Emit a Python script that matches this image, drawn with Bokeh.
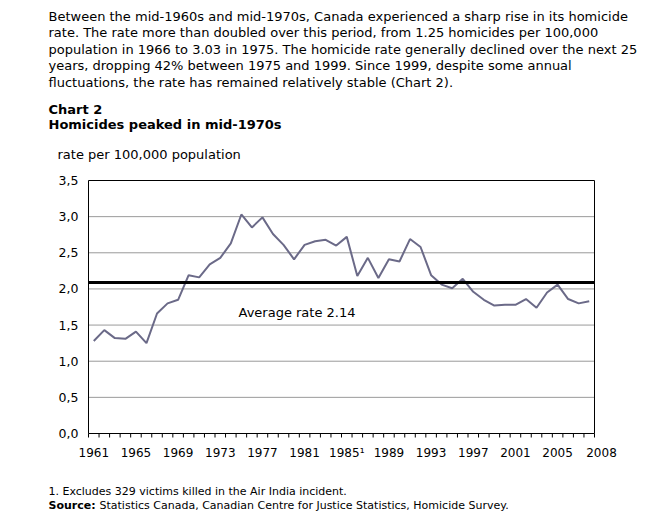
from bokeh.plotting import figure
from bokeh.models import Range1d
from bokeh.core.properties import value
from bokeh.embed import file_html
from bokeh.resources import INLINE

# ---- data ----
years = list(range(1961, 2009))
rates = [1.28, 1.43, 1.32, 1.31, 1.41, 1.25, 1.66, 1.80, 1.85, 2.19,
         2.16, 2.34, 2.43, 2.63, 3.03, 2.85, 2.99, 2.76, 2.61, 2.41,
         2.61, 2.66, 2.68, 2.60, 2.72, 2.18, 2.43, 2.15, 2.41, 2.38,
         2.69, 2.58, 2.19, 2.06, 2.01, 2.14, 1.96, 1.85, 1.77, 1.78,
         1.78, 1.86, 1.74, 1.95, 2.06, 1.86, 1.80, 1.83]
avg_line_value = 2.09
avg_label = "Average rate 2.14"
x_tick_years = [1961, 1965, 1969, 1973, 1977, 1981, 1985, 1989, 1993, 1997, 2001, 2005]
x_tick_labels = ["1961", "1965", "1969", "1973", "1977", "1981", "1985\u00b9",
                 "1989", "1993", "1997", "2001", "2005"]
last_year_label = "2008"
y_ticks = [0.0, 0.5, 1.0, 1.5, 2.0, 2.5, 3.0, 3.5]
y_tick_labels = ["0,0", "0,5", "1,0", "1,5", "2,0", "2,5", "3,0", "3,5"]

paragraph = [
    "Between the mid-1960s and mid-1970s, Canada experienced a sharp rise in its homicide",
    "rate. The rate more than doubled over this period, from 1.25 homicides per 100,000",
    "population in 1966 to 3.03 in 1975. The homicide rate generally declined over the next 25",
    "years, dropping 42% between 1975 and 1999. Since 1999, despite some annual",
    "fluctuations, the rate has remained relatively stable (Chart 2).",
]
chart_no = "Chart 2"
chart_title = "Homicides peaked in mid-1970s"
y_title = "rate per 100,000 population"
footnote = "1. Excludes 329 victims killed in the Air India incident."
source_bold = "Source:"
source_text = "Statistics Canada, Canadian Centre for Justice Statistics, Homicide Survey."

FONT = "DejaVu Sans"

# ---- layout (page pixels) ----
W, H = 645, 514
FL, FR, FT, FB = 88, 594, 180, 433      # chart box edges
X0, X1 = years[0] - 0.5, years[-1] + 0.5
Y0, Y1 = 0.0, 3.5
PXU = (FR - FL) / (X1 - X0)
PYU = (FB - FT) / (Y1 - Y0)


def dx(px):
    return X0 + (px - FL) / PXU


def dy(py):
    return Y0 + (FB - py) / PYU


p = figure(width=W, height=H, output_backend="svg", toolbar_location=None,
           x_range=Range1d(dx(0), dx(W)), y_range=Range1d(dy(H), dy(0)),
           x_axis_location=None, y_axis_location=None, min_border=0)
p.grid.visible = False
p.outline_line_color = None
p.background_fill_color = "white"
p.border_fill_color = "white"

# grid lines
grid_vals = [t for t in y_ticks if Y0 < t < Y1]
p.segment(x0=[X0] * len(grid_vals), x1=[X1] * len(grid_vals), y0=grid_vals, y1=grid_vals,
          line_color="#9a9a9a", line_width=1)

# data line
p.line(years, rates, line_color="#6b6a88", line_width=2)

# average line
p.segment(x0=[X0], x1=[X1], y0=[avg_line_value], y1=[avg_line_value],
          line_color="black", line_width=3)

# chart box
p.quad(left=[X0], right=[X1], bottom=[Y0], top=[Y1], fill_color=None,
       line_color="black", line_width=1)

# x ticks at year boundaries
bounds = [y - 0.5 for y in years] + [years[-1] + 0.5]
p.segment(x0=bounds, x1=bounds, y0=[Y0] * len(bounds), y1=[dy(FB + 4)] * len(bounds),
          line_color="black", line_width=1)


def txt(xs, ys, texts, size, bold=False, align="left"):
    p.text(x=xs, y=ys, text=texts, text_font=value(FONT), text_font_size=value(size),
           text_font_style="bold" if bold else "normal", text_color="black",
           text_baseline="middle", text_align=align)


# tick labels
txt(x_tick_years, [dy(452)] * len(x_tick_years), x_tick_labels, "12px", align="center")
txt([dx(601)], [dy(452)], [last_year_label], "12px", align="center")
txt([dx(78)] * len(y_ticks), y_ticks, y_tick_labels, "12.5px", align="right")

# average label
txt([dx(238)], [dy(312)], [avg_label], "13px")

# header texts
txt([dx(48)] * len(paragraph), [dy(16 + i * 16.4) for i in range(len(paragraph))], paragraph, "13px")
txt([dx(48)], [dy(109)], [chart_no], "13px", bold=True)
txt([dx(48)], [dy(124)], [chart_title], "13px", bold=True)
txt([dx(57)], [dy(154)], [y_title], "13px")

# footer texts
txt([dx(48)], [dy(491)], [footnote], "11px")
txt([dx(48)], [dy(505)], [source_bold], "11px", bold=True)
txt([dx(99)], [dy(505)], [source_text], "11px")

open("out.html", "w").write(file_html(p, INLINE))
